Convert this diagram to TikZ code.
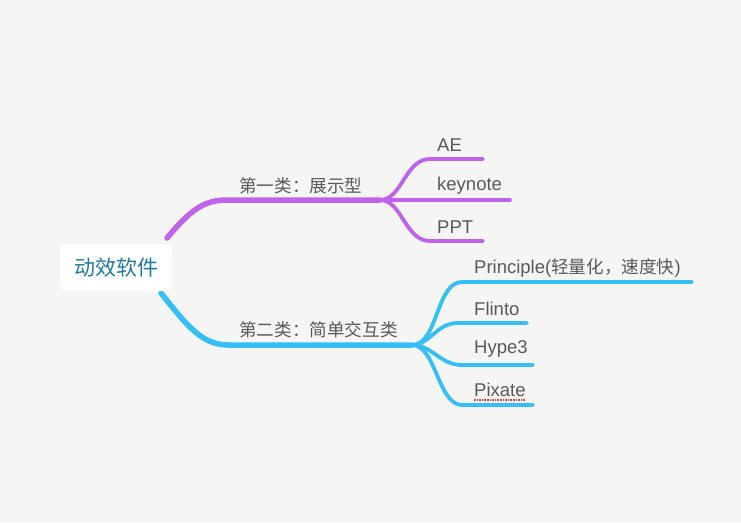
\documentclass[tikz,border=0pt]{standalone}
\usepackage{fontspec}
\setmainfont{Liberation Sans}
\newfontfamily\cjk{Noto Sans CJK SC}
\definecolor{bgc}{HTML}{F5F6F3}
\definecolor{purp}{HTML}{C162EC}
\definecolor{blu}{HTML}{36BEF6}
\definecolor{lbl}{HTML}{595959}
\definecolor{teal}{HTML}{1E7C9E}
\definecolor{spell}{HTML}{F03A3A}
\tikzset{
  rootbox/.style={fill=white, rounded corners=5pt, minimum width=112pt, minimum height=47pt, inner sep=0pt, text=teal, font=\cjk\fontsize{21}{25}\selectfont},
  lab/.style={anchor=west, inner sep=0pt, text=lbl, font=\fontsize{18.5}{22}\selectfont},
  cjklab/.style={anchor=west, inner sep=0pt, text=lbl, font=\cjk\fontsize{17.6}{21}\selectfont},
  mainline/.style={line width=5.5pt, line cap=round},
  subline/.style={line width=3.8pt, line cap=round},
}
\begin{document}
\begin{tikzpicture}[x=1pt,y=-1pt]
\fill[bgc] (0,0) rectangle (741,522);
\useasboundingbox (0,0) rectangle (741,522);
% coordinates
\coordinate (p0) at (167,238);
\coordinate (p1) at (228,200);
\coordinate (pj) at (380,200);
\coordinate (aes) at (430,159);
\coordinate (aee) at (483,159);
\coordinate (kee) at (510,200);
\coordinate (pps) at (430,241);
\coordinate (ppe) at (483,241);
\coordinate (b0) at (161,293);
\coordinate (b1) at (229,345);
\coordinate (bj) at (412,345);
\coordinate (prs) at (462,282);
\coordinate (pre) at (692,282);
\coordinate (fls) at (458,323);
\coordinate (fle) at (527,323);
\coordinate (hys) at (462,365);
\coordinate (hye) at (533,365);
\coordinate (pis) at (462,405);
\coordinate (pie) at (533,405);
% purple branch
\draw[mainline, purp] (p0) .. controls (192,208) and (205,200) .. (p1) -- (pj);
\draw[subline, purp] (pj) .. controls (402,200) and (405,159) .. (aes) -- (aee);
\draw[subline, purp] (pj) -- (kee);
\draw[subline, purp] (pj) .. controls (402,200) and (405,241) .. (pps) -- (ppe);
% blue branch
\draw[mainline, blu] (b0) .. controls (188,327) and (202,345) .. (b1) -- (bj);
\draw[subline, blu] (bj) .. controls (438,345) and (436,282) .. (prs) -- (pre);
\draw[subline, blu] (bj) .. controls (430,345) and (436,323) .. (fls) -- (fle);
\draw[subline, blu] (bj) .. controls (432,345) and (440,365) .. (hys) -- (hye);
\draw[subline, blu] (bj) .. controls (436,345) and (438,405) .. (pis) -- (pie);
% root
\node[rootbox] (root) at (116,267.5) {动效软件};
% labels
\node[cjklab] (c1) at (239,186) {第一类：展示型};
\node[lab] (ae) at (437,145) {AE};
\node[lab] (kn) at (437,186) {keynote};
\node[lab] (ppt) at (437,227) {PPT};
\node[cjklab] (c2) at (239,330) {第二类：简单交互类};
\node[lab] (pr) at (474,268) {Principle({\cjk\fontsize{17.6}{21}\selectfont 轻量化，速度快})};
\node[lab] (fl) at (474,309) {Flinto};
\node[lab] (hy) at (474,349) {Hype3};
\node[lab] (px) at (474,390) {Pixate};
\draw[spell, line width=1.6pt, dash pattern=on 1.6pt off 1pt] (px.south west)++(0,3) -- ++(51,0);
\end{tikzpicture}
\end{document}
